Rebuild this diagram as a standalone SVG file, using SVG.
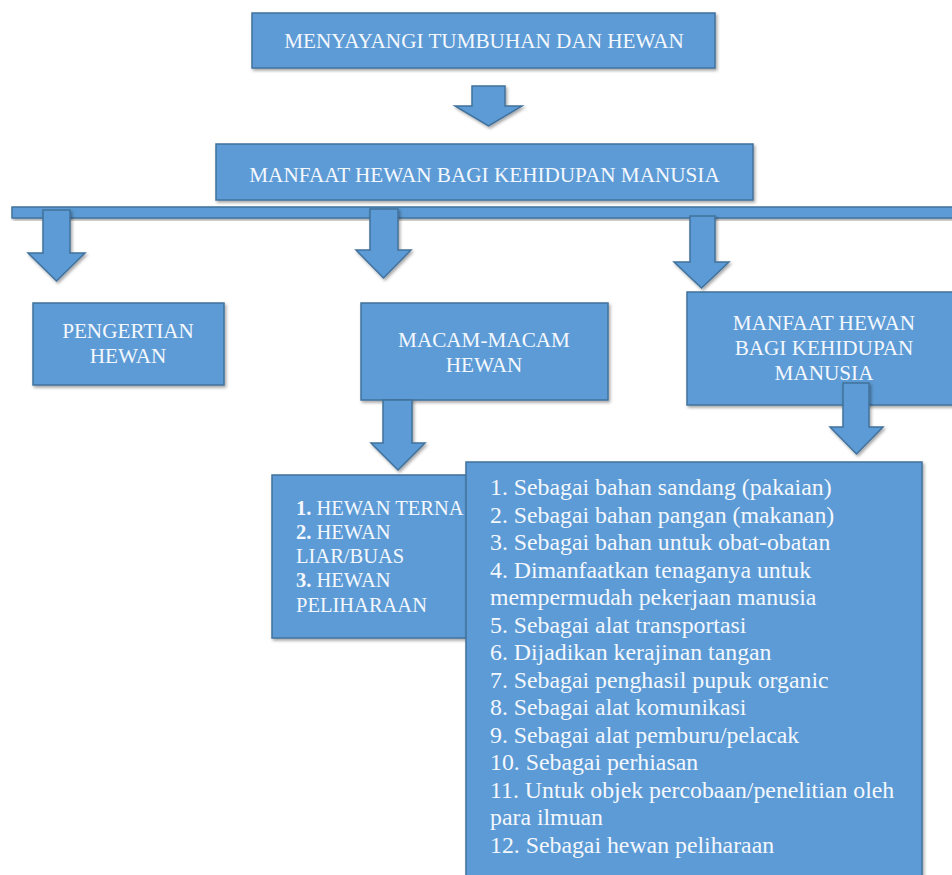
<svg xmlns="http://www.w3.org/2000/svg" width="952" height="875" viewBox="0 0 952 875">
<defs>
<filter id="sh" x="-10%" y="-10%" width="130%" height="130%">
<feDropShadow dx="1.5" dy="2" stdDeviation="1.5" flood-color="#000" flood-opacity="0.35"/>
</filter>
<style>
.box{fill:#5B9BD5;stroke:#41719C;stroke-width:1.5;filter:url(#sh)}
.arr{fill:#5B9BD5;stroke:#41719C;stroke-width:1.5;stroke-linejoin:miter;filter:url(#sh)}
.t{font-family:"Liberation Serif","Times New Roman",serif;fill:#F4F8FE}
.h{font-size:21.2px;text-anchor:middle}
.s{font-size:20.5px}
.l{font-size:23.8px}
</style>
</defs>
<rect width="952" height="875" fill="#ffffff"/>
<g id="node-top">
<rect class="box" x="252" y="13" width="463" height="55"/>
<text class="t h" x="484" y="48">MENYAYANGI TUMBUHAN DAN HEWAN</text>
</g>
<g id="node-manfaat-main">
<rect class="box" x="216" y="144" width="537" height="56"/>
<text class="t h" x="484.5" y="182">MANFAAT HEWAN BAGI KEHIDUPAN MANUSIA</text>
</g>
<g id="node-pengertian">
<rect class="box" x="33" y="303" width="191" height="82"/>
<text class="t h" x="128" y="338">PENGERTIAN</text>
<text class="t h" x="128" y="363">HEWAN</text>
</g>
<g id="node-macam">
<rect class="box" x="361" y="303" width="247" height="97"/>
<text class="t h" x="484" y="347">MACAM-MACAM</text>
<text class="t h" x="484" y="372">HEWAN</text>
</g>
<g id="node-manfaat">
<rect class="box" x="687" y="292" width="280" height="113"/>
<text class="t h" x="824" y="330">MANFAAT HEWAN</text>
<text class="t h" x="824" y="355">BAGI KEHIDUPAN</text>
<text class="t h" x="824" y="380">MANUSIA</text>
</g>
<g id="node-macam-list">
<rect class="box" x="272" y="475" width="220" height="163"/>
<text class="t s" x="296" y="515"><tspan font-weight="bold">1.</tspan> HEWAN TERNA</text>
<text class="t s" x="296" y="539"><tspan font-weight="bold">2.</tspan> HEWAN</text>
<text class="t s" x="296" y="563">LIAR/BUAS</text>
<text class="t s" x="296" y="587"><tspan font-weight="bold">3.</tspan> HEWAN</text>
<text class="t s" x="296" y="612">PELIHARAAN</text>
</g>
<g id="node-manfaat-list">
<rect class="box" x="466" y="462" width="456" height="420"/>
<text class="t l" x="490" y="495">1. Sebagai bahan sandang (pakaian)</text>
<text class="t l" x="490" y="522.5">2. Sebagai bahan pangan (makanan)</text>
<text class="t l" x="490" y="550">3. Sebagai bahan untuk obat-obatan</text>
<text class="t l" x="490" y="577.5">4. Dimanfaatkan tenaganya untuk</text>
<text class="t l" x="490" y="605">mempermudah pekerjaan manusia</text>
<text class="t l" x="490" y="632.5">5. Sebagai alat transportasi</text>
<text class="t l" x="490" y="660">6. Dijadikan kerajinan tangan</text>
<text class="t l" x="490" y="687.5">7. Sebagai penghasil pupuk organic</text>
<text class="t l" x="490" y="715">8. Sebagai alat komunikasi</text>
<text class="t l" x="490" y="742.5">9. Sebagai alat pemburu/pelacak</text>
<text class="t l" x="490" y="770">10. Sebagai perhiasan</text>
<text class="t l" x="490" y="797.5">11. Untuk objek percobaan/penelitian oleh</text>
<text class="t l" x="490" y="825">para ilmuan</text>
<text class="t l" x="490" y="852.5">12. Sebagai hewan peliharaan</text>
</g>
<g id="connectors">
<polygon class="arr" points="472,86 505,86 505,106 522,106 488.5,126 455,106 472,106"/>
<rect class="arr" x="12" y="207" width="950" height="11"/>
<polygon class="arr" points="43,210 70,210 70,253 85,253 56.5,281 28,253 43,253"/>
<polygon class="arr" points="370,209 398,209 398,250 411,250 383.5,278 356,250 370,250"/>
<polygon class="arr" points="690,216 715,216 715,262 729,262 701.5,288 674,262 690,262"/>
<polygon class="arr" points="383,400 412,400 412,443 425,443 398,470 371,443 383,443"/>
<polygon class="arr" points="843,383 869,383 869,427 883,427 856.5,454 830,427 843,427"/>
</g>
</svg>
